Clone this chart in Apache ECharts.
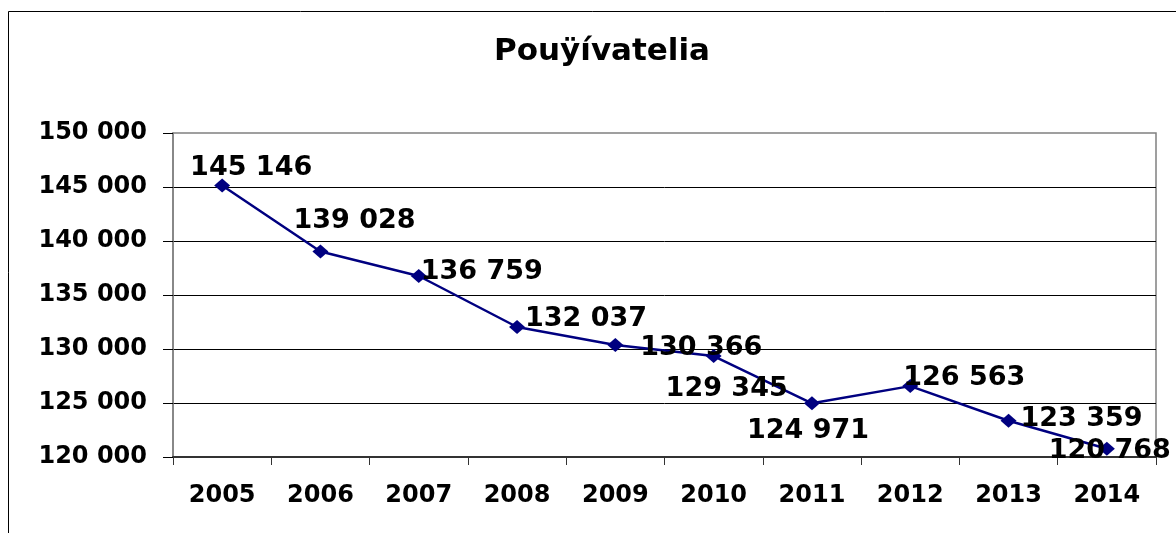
<!DOCTYPE html>
<html>
<head>
<meta charset="utf-8">
<script src="https://cdn.jsdelivr.net/npm/echarts@6/dist/echarts.min.js"></script>
<style>
html,body{margin:0;padding:0;background:#fff;}
#c{width:1176px;height:533px;}
</style>
</head>
<body>
<div id="c"></div>
<script>
const titleText = 'Pouÿívatelia';
const years = ['2005','2006','2007','2008','2009','2010','2011','2012','2013','2014'];
const users = [145146, 139028, 136759, 132037, 130366, 129345, 124971, 126563, 123359, 120768];
const yMin = 120000, yMax = 150000, yStep = 5000;
// label offsets (dx, dy) from each point, in pixels
const labelOffsets = [[29,-17],[34,-31],[63,-4],[69,-8],[86,3],[13,33],[-4,28],[54,-8],[73,-2],[3,2]];

const fmt = v => String(v).replace(/\B(?=(\d{3})+(?!\d))/g, ' ');
const FONT = '"DejaVu Sans", sans-serif';

const chart = echarts.init(document.getElementById('c'), null, {renderer:'canvas'});
chart.setOption({
  backgroundColor: '#ffffff',
  animation: false,
  title: {
    text: titleText,
    left: 597, top: 31, textAlign: 'center',
    textStyle: {fontFamily: FONT, fontWeight: 'bold', fontSize: 31, color: '#000'}
  },
  graphic: [{
    type: 'rect', silent: true, z: -1,
    shape: {x: 8.5, y: 11.5, width: 1300, height: 700},
    style: {fill: null, stroke: '#000', lineWidth: 1}
  }],
  grid: {left: 173, top: 133, right: 20, bottom: 76, show: true, borderColor: '#808080', borderWidth: 1.5, backgroundColor: 'transparent'},
  xAxis: {
    type: 'category', data: years, boundaryGap: true,
    axisLine: {lineStyle: {color: '#333', width: 2}},
    axisTick: {show: true, length: 8, lineStyle: {color: '#333', width: 1}},
    axisLabel: {margin: 27, fontFamily: FONT, fontWeight: 'bold', fontSize: 24, color: '#000'}
  },
  yAxis: {
    type: 'value', min: yMin, max: yMax, interval: yStep,
    axisLine: {show: true, lineStyle: {color: '#808080', width: 1.5}},
    axisTick: {show: true, length: 10, lineStyle: {color: '#000', width: 1}},
    splitLine: {show: true, showMinLine: false, showMaxLine: false, lineStyle: {color: '#000', width: 1}},
    axisLabel: {margin: 26, formatter: fmt, fontFamily: FONT, fontWeight: 'bold', fontSize: 24, color: '#000'}
  },
  series: [{
    type: 'line',
    data: users,
    symbol: 'diamond', symbolSize: [16, 14],
    itemStyle: {color: '#000080'},
    lineStyle: {color: '#000080', width: 2.5},
    label: {
      show: true, position: 'inside', formatter: p => fmt(p.value),
      fontFamily: FONT, fontWeight: 'bold', fontSize: 27, color: '#000',
      align: 'center', verticalAlign: 'middle'
    },
    labelLayout: p => ({dx: labelOffsets[p.dataIndex][0], dy: labelOffsets[p.dataIndex][1], hideOverlap: false}),
    z: 3
  }]
});
</script>
</body>
</html>
